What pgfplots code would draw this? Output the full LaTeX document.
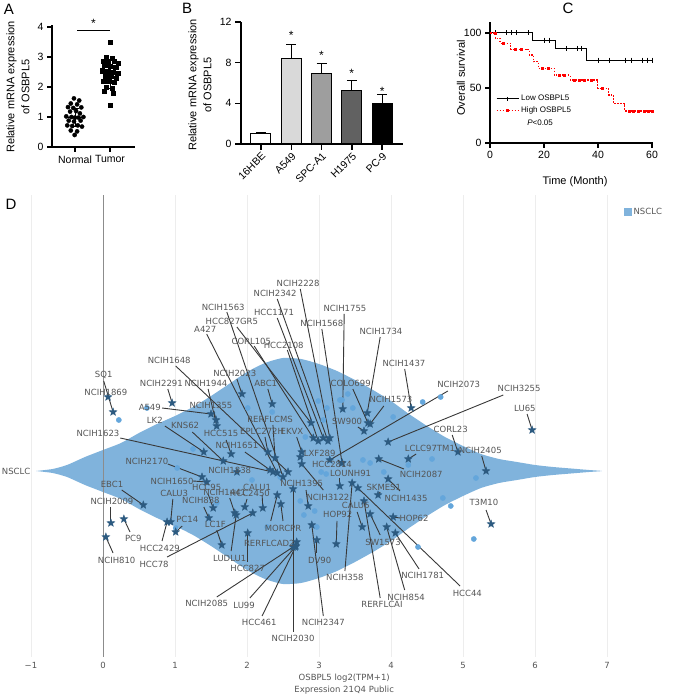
\documentclass[border=0pt]{standalone}
\usepackage{pgfplots}
\pgfplotsset{compat=1.18}
\usepackage{pgfplotstable}
\usepackage{fontspec}
\setmainfont{Liberation Sans}
\newfontfamily\dejavu{DejaVu Sans}

\definecolor{violin}{HTML}{80B3DC}
\definecolor{dotc}{HTML}{64A6DB}
\definecolor{starc}{HTML}{2C5A80}
\definecolor{linec}{HTML}{383838}
\definecolor{labc}{HTML}{555555}

% filled five-pointed star
\pgfdeclareplotmark{fstar}{%
  \pgfpathmoveto{\pgfpointpolar{90}{\pgfplotmarksize}}%
  \pgfpathlineto{\pgfpointpolar{126}{0.42\pgfplotmarksize}}%
  \pgfpathlineto{\pgfpointpolar{162}{\pgfplotmarksize}}%
  \pgfpathlineto{\pgfpointpolar{198}{0.42\pgfplotmarksize}}%
  \pgfpathlineto{\pgfpointpolar{234}{\pgfplotmarksize}}%
  \pgfpathlineto{\pgfpointpolar{270}{0.42\pgfplotmarksize}}%
  \pgfpathlineto{\pgfpointpolar{306}{\pgfplotmarksize}}%
  \pgfpathlineto{\pgfpointpolar{342}{0.42\pgfplotmarksize}}%
  \pgfpathlineto{\pgfpointpolar{18}{\pgfplotmarksize}}%
  \pgfpathlineto{\pgfpointpolar{54}{0.42\pgfplotmarksize}}%
  \pgfpathclose
  \pgfusepathqfillstroke
}

\newcommand{\tfs}{\fontsize{10.5}{12}\selectfont}
\newcommand{\lfs}{\fontsize{11}{15}\selectfont}
\newcommand{\dfs}{\dejavu\fontsize{8.5}{10}\selectfont}

% violin outline: half width (upper) then back along the lower side
\pgfplotstableread{
x y
-0.93 0
-0.7 2
-0.5 6
-0.25 14
0 21
0.25 28
0.5 38
0.75 47
1.0 55
1.25 64
1.5 75
1.75 87
2.0 99
2.25 108
2.5 113
2.75 112
3.0 107
3.25 100
3.5 91
3.75 81
4.0 70
4.25 57
4.5 45
4.75 34
5.0 25
5.25 17
5.5 12
5.75 9
6.0 6
6.25 4
6.5 2.5
6.75 1
6.93 0
6.75 -1
6.5 -2.5
6.25 -4
6.0 -6
5.75 -9
5.5 -12
5.25 -17
5.0 -25
4.75 -34
4.5 -45
4.25 -57
4.0 -70
3.75 -81
3.5 -91
3.25 -100
3.0 -107
2.75 -112
2.5 -113
2.25 -108
2.0 -99
1.75 -87
1.5 -75
1.25 -64
1.0 -55
0.75 -47
0.5 -38
0.25 -28
0 -21
-0.25 -14
-0.5 -6
-0.7 -2
-0.93 0
}\violintab

% unlabeled cell lines
\pgfplotstableread{
x y
0.22 51
0.61 63
2.01 63
2.35 59
2.99 70
3.11 63
3.06 51
3.29 71
2.81 34
3.40 77
3.32 71
3.47 63
4.44 69
4.69 74
4.03 54
3.61 11
3.71 8
3.90 -1
4.24 6
4.57 12
5.18 -7
4.72 -27
4.83 -35
4.375 -76
5.15 -68
1.25 22
1.03 3
2.46 -6
3.03 -1
3.10 -3
2.74 -30
2.94 -40
2.79 -44
2.28 -56
2.07 -9
2.97 -56
1.01 -57
1.58 -32
}\dottab

% name, label centre, start of leader line, marked cell line
\pgfplotstableread{
name lx ly tx ty sx sy
SQ1 0.01 96 0.01 90 0.14 59
NCIH1869 0.04 79 0.06 76 0.07 74
NCIH2291 0.81 88 0.90 82 0.96 68
NCIH1944 1.43 88 1.46 82 1.58 45
NCIH1648 0.92 111 1.01 105 2.57 -1
NCIH2023 1.83 98 1.86 92 1.93 77
A427 1.42 142 1.44 137 2.42 -2
NCIH1563 1.67 164 1.72 159 2.50 -6
HCC827GR5 1.79 150 1.86 144 2.89 48
CORL105 2.06 130 2.10 125 2.92 33
HCC2108 2.51 126 2.56 121 2.99 30
HCC1171 2.375 159 2.42 153 3.06 33
NCIH2342 2.39 178 2.42 172 3.125 30
NCIH2228 2.71 188 2.74 182 3.15 33
NCIH1568 3.04 148 3.04 142 3.32 8
NCIH1755 3.36 163 3.35 157 3.33 62
NCIH1734 3.86 140 3.85 134 3.67 58
NCIH1437 4.18 108 4.19 102 4.28 63
COLO699 3.44 88 3.47 82 3.68 48
NCIH1573 4.00 72 3.90 65 3.71 47
SW900 3.39 50 3.54 44 3.625 40
NCIH2073 4.94 87 4.79 80 3.15 11
NCIH3255 5.78 83 5.56 76 3.96 29
LU65 5.86 63 5.89 57 5.96 41
CORL23 4.83 42 4.85 36 4.93 19
LCLC97TM1 4.54 23 4.35 17 4.24 12
NCIH2405 5.24 21 5.26 15 5.32 0
NCIH2087 4.42 -3 4.18 2 3.83 12
NCIH1435 4.21 -27 4.125 -20 3.96 -8
SKMES1 3.90 -16 3.85 -21 3.82 -24
T3M10 5.29 -31 5.32 -39 5.39 -53
HOP62 4.32 -47 4.125 -47 4.03 -46
SW1573 3.89 -71 3.85 -64 3.71 -43
NCIH1781 4.44 -104 4.39 -98 4.06 -62
NCIH854 4.21 -126 4.19 -119 3.94 -56
HCC44 5.06 -122 4.96 -115 3.54 -17
RERFLCAI 3.875 -133 3.85 -127 3.625 -30
NCIH358 3.36 -106 3.36 -100 3.46 -12
CALU6 3.51 -34 3.53 -41 3.60 -56
HOP92 3.26 -43 3.25 -50 3.24 -73
DV90 3.01 -89 2.97 -82 2.97 -69
NCIH2347 3.06 -151 3.06 -145 2.90 -54
NCIH2030 2.64 -167 2.64 -161 2.64 -18
HCC461 2.17 -151 2.21 -145 2.68 -75
LU99 1.96 -134 2.04 -127 2.67 -76
NCIH2085 1.44 -132 1.58 -126 2.64 -76
RERFLCAD2 2.31 -72 2.67 -72 2.69 -71
MORCPR 2.50 -57 2.33 -50 2.42 -24
HCC827 2.01 -97 2.01 -91 2.01 -62
LUDLU1 1.76 -87 1.78 -80 1.85 -44
LC1F 1.56 -53 1.58 -59 1.65 -74
HCC78 0.71 -93 0.89 -86 2.08 -42
HCC2429 0.79 -77 0.82 -70 0.89 -51
CALU3 0.99 -22 0.97 -28 0.94 -51
PC14 1.17 -48 1.10 -55 1.01 -61
PC9 0.42 -67 0.375 -61 0.29 -48
NCIH810 0.19 -89 0.14 -82 0.04 -66
NCIH2009 0.125 -30 0.11 -36 0.11 -52
EBC1 0.125 -13 0.26 -19 0.56 -34
NCIH1650 0.96 -10 1.25 -10 1.44 -11
NCIH2170 0.61 10 0.90 7 1.375 -6
NCIH1623 -0.07 38 0.24 33 2.36 -1
LK2 0.72 51 0.86 45 1.40 19
KNS62 1.14 46 1.24 39 1.67 10
A549 0.65 64 0.82 63 1.50 57
NCIH1355 1.50 66 1.54 60 1.57 51
HCC515 1.64 38 1.71 31 1.78 17
NCIH1651 1.86 26 1.97 19 2.32 1
NCIH1838 1.76 1 1.85 0 1.86 -1
EPLC272H 2.21 40 2.25 34 2.29 19
RERFLCMS 2.32 52 2.36 46 2.39 13
EKVX 2.625 40 2.69 34 2.76 19
ABC1 2.26 88 2.29 82 2.35 67
LXF289 3.01 18 2.75 14 2.74 14
NCIH3122 3.125 -26 3.06 -19 2.76 7
NCIH1395 2.76 -12 2.82 -19 2.85 -35
HCC2814 3.18 7 3.26 11 3.32 8
LOUNH91 3.44 -2 3.29 -7 3.29 -15
CALU1 2.14 -16 2.21 -24 2.22 -37
HCC2450 2.04 -22 2.00 -28 1.97 -36
NCIH1441 1.69 -21 1.76 -27 1.83 -42
HCC95 1.44 -16 1.46 -23 1.53 -37
NCIH838 1.36 -29 1.40 -36 1.47 -47
}\annot

\begin{document}
\begin{tikzpicture}[x=1pt,y=1pt]
\useasboundingbox (0,0) rectangle (685,698);

% ---------------- panel A
\begin{axis}[
    at={(52pt,551pt)}, anchor=south west, scale only axis,
    width=83pt, height=121.5pt,
    xmin=0.343, xmax=2.714, ymin=0, ymax=4.05,
    axis lines=left, axis line style={-, line width=1.4pt},
    xtick={1,2}, xticklabels={Normal,Tumor},
    ytick={0,1,2,3,4},
    tick style={line width=1.4pt, black},
    tick align=outside, major tick length=5pt,
    ticklabel style={font=\tfs},
    /pgf/number format/assume math mode=true,
    clip=false,
]
\addplot[only marks, mark=*, mark size=2.1pt, black] coordinates {
(0.97,1.62)(1.12,1.55)(0.88,1.45)(1.06,1.42)(0.80,1.33)(0.95,1.30)(1.18,1.32)
(0.86,1.18)(1.03,1.20)(1.14,1.12)(0.75,1.02)(0.90,1.00)(1.00,0.98)(1.10,0.98)
(1.24,1.00)(0.82,0.88)(0.97,0.85)(1.16,0.88)(0.78,0.72)(0.92,0.70)(1.08,0.72)
(1.20,0.68)(0.88,0.55)(1.06,0.52)(0.99,0.40)};
\addplot[only marks, mark=square*, mark size=2.1pt, black] coordinates {
(2.00,3.50)(1.88,3.00)(2.06,2.95)(1.80,2.85)(1.95,2.85)(2.12,2.85)(2.24,2.80)
(1.85,2.72)(2.00,2.70)(2.16,2.65)(1.78,2.55)(1.92,2.52)(2.08,2.50)(2.22,2.45)
(1.86,2.35)(2.02,2.35)(2.18,2.30)(1.80,2.20)(1.96,2.18)(2.12,2.15)(1.90,2.00)
(2.06,1.95)(1.84,1.85)(2.10,1.80)(2.00,1.40)};
% mean and SD
\addplot[black, line width=1pt] coordinates {(0.76,0.97)(1.24,0.97)};
\addplot[black, line width=1pt] coordinates {(1,0.67)(1,1.27)};
\addplot[black, line width=1pt] coordinates {(0.9,0.67)(1.1,0.67)};
\addplot[black, line width=1pt] coordinates {(0.9,1.27)(1.1,1.27)};
\addplot[black, line width=1pt] coordinates {(1.71,2.45)(2.29,2.45)};
\addplot[black, line width=1pt] coordinates {(2,1.95)(2,2.9)};
\addplot[black, line width=1pt] coordinates {(1.9,1.95)(2.1,1.95)};
\addplot[black, line width=1pt] coordinates {(1.9,2.9)(2.1,2.9)};
\addplot[black, line width=0.8pt] coordinates {(1.06,3.87)(2.0,3.87)};
\node[font=\fontsize{12}{12}\selectfont] at (axis cs:1.53,4.12) {*};
\end{axis}

% ---------------- panel B
\begin{axis}[
    at={(241pt,554pt)}, anchor=south west, scale only axis,
    width=162pt, height=122pt,
    xmin=-0.66, xmax=4.69, ymin=0, ymax=12,
    axis lines=left, axis line style={-, line width=1.4pt},
    ytick={0,4,8,12},
    xtick={0,1,2,3,4}, xticklabels={16HBE,A549,SPC-A1,H1975,PC-9},
    xticklabel style={rotate=45, anchor=north east, inner sep=1pt},
    tick style={line width=1.4pt, black},
    tick align=outside, major tick length=6pt,
    ticklabel style={font=\tfs},
    /pgf/number format/assume math mode=true,
    ybar, bar width=20pt, bar shift=0pt,
    clip=false,
]
\addplot[fill=white, draw=black, line width=1pt,
    error bars/.cd, y dir=plus, y explicit,
    error bar style={line width=1pt}, error mark options={rotate=90, mark size=5pt, line width=1pt}]
    coordinates {(0,1.0) +- (0,0.1)};
\addplot[fill=black!15, draw=black, line width=1pt,
    error bars/.cd, y dir=plus, y explicit,
    error bar style={line width=1pt}, error mark options={rotate=90, mark size=5pt, line width=1pt}]
    coordinates {(1,8.4) +- (0,1.4)};
\addplot[fill=black!38, draw=black, line width=1pt,
    error bars/.cd, y dir=plus, y explicit,
    error bar style={line width=1pt}, error mark options={rotate=90, mark size=5pt, line width=1pt}]
    coordinates {(2,6.9) +- (0,1.0)};
\addplot[fill=black!62, draw=black, line width=1pt,
    error bars/.cd, y dir=plus, y explicit,
    error bar style={line width=1pt}, error mark options={rotate=90, mark size=5pt, line width=1pt}]
    coordinates {(3,5.3) +- (0,0.9)};
\addplot[fill=black, draw=black, line width=1pt,
    error bars/.cd, y dir=plus, y explicit,
    error bar style={line width=1pt}, error mark options={rotate=90, mark size=5pt, line width=1pt}]
    coordinates {(4,4.0) +- (0,0.9)};
\node[font=\fontsize{12}{12}\selectfont] at (axis cs:1,10.7) {*};
\node[font=\fontsize{12}{12}\selectfont] at (axis cs:2,8.7) {*};
\node[font=\fontsize{12}{12}\selectfont] at (axis cs:3,6.9) {*};
\node[font=\fontsize{12}{12}\selectfont] at (axis cs:4,5.2) {*};
\end{axis}

% ---------------- panel C
\begin{axis}[
    at={(490pt,555pt)}, anchor=south west, scale only axis,
    width=163.4pt, height=121pt,
    xmin=0, xmax=60.5, ymin=0, ymax=110,
    axis lines=left, axis line style={-, line width=1.4pt},
    xtick={0,20,40,60}, ytick={0,50,100},
    tick style={line width=1.4pt, black},
    tick align=outside, major tick length=5pt,
    ticklabel style={font=\tfs},
    /pgf/number format/assume math mode=true,
    legend style={at={(rel axis cs:0.03,0.42)}, anchor=north west, draw=none, fill=none,
        font=\fontsize{8}{9}\selectfont, row sep=0pt, inner sep=1pt},
    legend cell align=left,
    legend image code/.code={\draw[mark repeat=2, mark phase=2, #1]
        plot coordinates {(0pt,0pt) (11pt,0pt) (22pt,0pt)};},
    clip=false,
]
\addlegendimage{black, line width=1pt, mark=|, mark size=2pt}
\addlegendentry{Low OSBPL5}
\addlegendimage{red, line width=1.1pt, dash pattern=on 1.5pt off 1.5pt, mark=square*, mark size=1pt, mark options={solid}}
\addlegendentry{High OSBPL5}
\addplot[const plot, black, line width=1pt] coordinates {
(0,100)(15.8,93.6)(24.1,86)(35.9,75.4)(60,75.4)};
\addplot[only marks, mark=|, mark size=2.5pt, black, line width=0.8pt] coordinates {
(1.9,100)(5.9,100)(7.8,100)(9.9,100)(14.2,100)(20,93.6)(21.9,93.6)
(28.1,86)(32.2,86)(33.8,86)(40.2,75.4)(44.3,75.4)(50.1,75.4)(52.2,75.4)
(56.3,75.4)(58.2,75.4)(60,75.4)};
\addplot[const plot, red, line width=1.1pt, dash pattern=on 1.5pt off 1.5pt] coordinates {
(0,100)(1.9,95.2)(3.7,90.6)(7.7,85.2)(13.4,84.6)(14.6,80)(16.1,74)(17.9,67.9)
(23.8,61.8)(29.7,57.3)(39.9,49.7)(43.9,43.6)(45.8,35.5)(49.8,29.1)(60,29.1)};
\addplot[only marks, mark=square*, mark size=1pt, red] coordinates {
(1.9,100)(5,90.6)(9.5,85.2)(11.5,85.2)(19.5,67.9)(21.5,67.9)(25.5,61.8)(27.5,61.8)
(31,57.3)(33,57.3)(35,57.3)(37.5,57.3)(41.5,49.7)(51.5,29.1)(53,29.1)(55,29.1)
(57,29.1)(58.5,29.1)(60,29.1)};
\node[anchor=west, font=\fontsize{8}{9}\selectfont] at (axis cs:12.5,18) {\textit{P}<0.05};
\end{axis}

% ---------------- panel D
\begin{axis}[
    at={(31pt,41pt)}, anchor=south west, scale only axis,
    width=626.4pt, height=462pt,
    xmin=-1, xmax=7.7, ymin=-186, ymax=276,
    axis line style={draw=none},
    major tick length=0pt,
    xtick={-1,0,1,2,3,4,5,6,7},
    xticklabels={−1,0,1,2,3,4,5,6,7},
    ytick={0}, yticklabels={NSCLC},
    xmajorgrids, grid style={black!7, line width=0.7pt},
    ticklabel style={font=\dfs, text=labc},
    xticklabel style={yshift=-2pt},
    yticklabel style={inner sep=0.5pt},
    xlabel={OSBPL5 log2(TPM+1)\\Expression 21Q4 Public},
    xlabel style={font=\dejavu\fontsize{8.5}{12}\selectfont, text=labc, align=center, yshift=2pt},
    legend style={at={(axis cs:7.2,259)}, anchor=west, draw=none, fill=none,
        font=\dfs, text=labc},
    clip=false,
]
\addlegendimage{only marks, mark=square*, mark size=3.5pt, violin}
\addlegendentry{NSCLC}
\addplot[fill=violin, draw=none, smooth, tension=0.4] table {\violintab};
\addplot[black!45, line width=0.8pt] coordinates {(0,-186)(0,276)};
\addplot[only marks, mark=*, mark size=2.6pt, dotc, mark options={draw=none}] table {\dottab};
\addplot[linec, line width=0.9pt,
    quiver={u=\thisrow{sx}-\thisrow{tx}, v=\thisrow{sy}-\thisrow{ty}}]
    table[x=tx, y=ty] {\annot};
\addplot[linec, line width=0.9pt] coordinates {(2.50,-50)(2.47,-33)};
\addplot[only marks, mark=fstar, mark size=4.2pt, starc, mark options={fill=starc, draw=starc, line width=0.3pt}]
    table[x=sx, y=sy] {\annot};
\addplot[only marks, mark=fstar, mark size=4.2pt, starc, mark options={fill=starc, draw=starc, line width=0.3pt}]
    coordinates {(2.47,-33)};
\addplot[draw=none, mark=none, nodes near coords, point meta=explicit symbolic,
    every node near coord/.append style={anchor=center, font=\dfs, text=labc, inner sep=0pt}]
    table[x=lx, y=ly, meta=name] {\annot};
\end{axis}

% ---------------- panel letters and outer labels
\node[font=\fontsize{15}{15}\selectfont] at (9,689) {A};
\node[font=\fontsize{15}{15}\selectfont] at (187,690) {B};
\node[font=\fontsize{15}{15}\selectfont] at (568,690) {C};
\node[font=\fontsize{15}{15}\selectfont] at (11,494) {D};
\node[rotate=90, align=center, font=\lfs] at (18,611) {Relative mRNA expression\\of OSBPL5};
\node[rotate=90, align=center, font=\lfs] at (200,613) {Relative mRNA expression\\of OSBPL5};
\node[rotate=90, font=\lfs] at (461,620) {Overall survival};
\node[font=\lfs] at (575,516) {Time (Month)};
\end{tikzpicture}
\end{document}
